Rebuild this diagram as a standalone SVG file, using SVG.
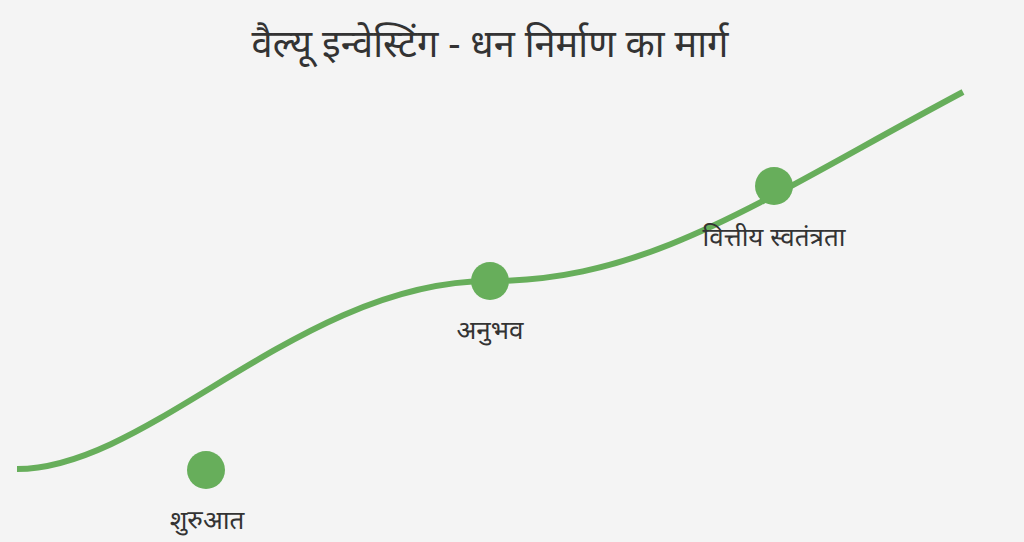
<svg xmlns="http://www.w3.org/2000/svg" width="1024" height="542" viewBox="0 0 1024 542">
<style>
.t{font-family:"Noto Sans","Noto Sans Devanagari","Lohit Devanagari",sans-serif;fill:#333;text-anchor:middle}
.lbl{font-size:26px}
.dot{fill:#67ae5b}
</style>
<rect width="1024" height="542" fill="#f4f4f4"/>
<text class="t" x="490" y="57" font-size="38">वैल्यू इन्वेस्टिंग - धन निर्माण का मार्ग</text>
<g id="connectors">
<path d="M17,469 C150,469 300,281 490,281 C650,281 760,200 963,92" fill="none" stroke="#67ae5b" stroke-width="6"/>
</g>
<g id="node-start"><circle class="dot" cx="206" cy="470" r="19"/><text class="t lbl" x="207" y="529">शुरुआत</text></g>
<g id="node-exp"><circle class="dot" cx="490" cy="281" r="19"/><text class="t lbl" x="490" y="339">अनुभव</text></g>
<g id="node-free"><circle class="dot" cx="774" cy="186" r="19"/><text class="t lbl" x="774" y="246">वित्तीय स्वतंत्रता</text></g>
</svg>
